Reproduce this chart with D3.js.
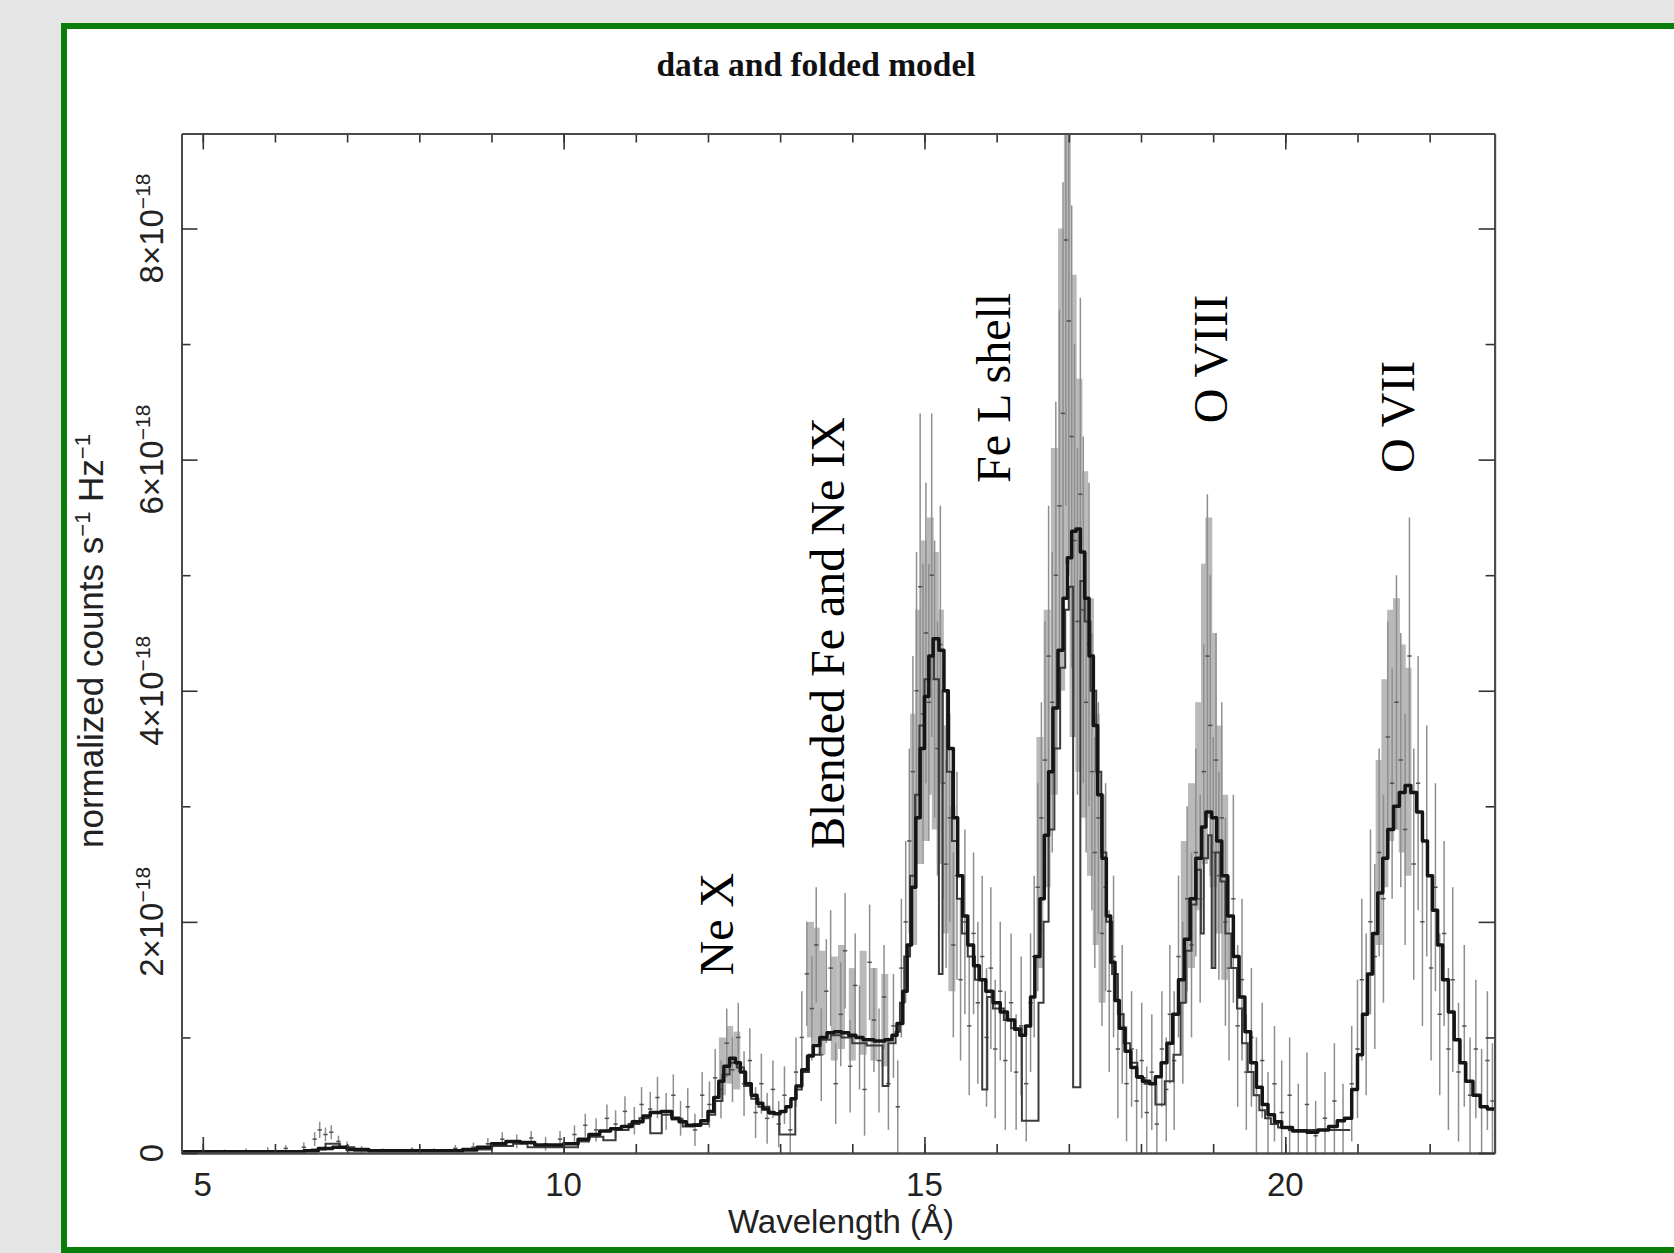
<!DOCTYPE html>
<html>
<head>
<meta charset="utf-8">
<script src="https://cdn.jsdelivr.net/npm/d3@7"></script>
<style>
  body { margin: 0; background: #e5e5e5; }
  svg { display: block; }
</style>
</head>
<body>
<div id="chart"></div>
<script>
// values in units of 1e-18 normalized counts s^-1 Hz^-1, wavelength in Angstrom

// folded model (thick black step line): [wavelength where step starts, value]
let modelMain = [
  [4.70,0.01],[6.4,0.02],[6.6,0.04],[6.8,0.05],[7.0,0.03],[7.3,0.02],[8.0,0.02],[8.6,0.03],
  [8.8,0.05],[9.0,0.08],[9.2,0.10],[9.4,0.09],[9.6,0.07],[9.8,0.07],[10.0,0.08],[10.2,0.12],
  [10.35,0.16],[10.5,0.19],[10.65,0.21],[10.8,0.23],[10.95,0.27],[11.1,0.32],[11.2,0.35],
  [11.35,0.36],[11.5,0.30],[11.6,0.27],[11.7,0.24],[11.8,0.24],[11.9,0.28],[12.0,0.36],
  [12.08,0.48],[12.15,0.62],[12.22,0.75],[12.3,0.82],[12.38,0.78],[12.45,0.70],[12.52,0.60],
  [12.6,0.50],[12.68,0.43],[12.76,0.38],[12.84,0.35],[12.92,0.34],[13.0,0.36],[13.08,0.40],
  [13.15,0.47],[13.22,0.58],[13.3,0.72],[13.38,0.84],[13.46,0.93],[13.55,1.00],[13.65,1.04],
  [13.75,1.05],[13.85,1.04],[13.95,1.02],[14.05,1.00],[14.15,0.98],[14.3,0.97],[14.45,0.98],
  [14.55,1.02],[14.62,1.12],[14.7,1.40],[14.76,1.80],[14.82,2.30],[14.88,2.90],[14.94,3.50],
  [15.0,3.95],[15.06,4.30],[15.12,4.45],[15.2,4.35],[15.27,4.00],[15.33,3.50],[15.4,2.90],
  [15.46,2.40],[15.53,2.05],[15.6,1.80],[15.68,1.62],[15.76,1.50],[15.85,1.40],[15.95,1.30],
  [16.05,1.22],[16.15,1.15],[16.25,1.07],[16.32,1.02],[16.4,1.10],[16.47,1.35],[16.53,1.70],
  [16.6,2.20],[16.66,2.75],[16.72,3.30],[16.78,3.85],[16.85,4.35],[16.92,4.80],[16.98,5.15],
  [17.04,5.38],[17.1,5.40],[17.16,5.20],[17.22,4.80],[17.28,4.30],[17.34,3.70],[17.4,3.10],
  [17.46,2.55],[17.52,2.05],[17.58,1.65],[17.64,1.32],[17.7,1.08],[17.78,0.88],[17.86,0.74],
  [17.94,0.66],[18.02,0.62],[18.12,0.60],[18.2,0.66],[18.28,0.78],[18.36,0.95],[18.44,1.20],
  [18.52,1.50],[18.6,1.85],[18.68,2.20],[18.76,2.55],[18.84,2.82],[18.9,2.95],[18.98,2.90],
  [19.05,2.70],[19.12,2.40],[19.2,2.05],[19.28,1.70],[19.36,1.35],[19.44,1.05],[19.52,0.78],
  [19.6,0.57],[19.68,0.42],[19.76,0.33],[19.85,0.27],[19.95,0.22],[20.1,0.19],[20.3,0.18],
  [20.45,0.20],[20.6,0.23],[20.72,0.28],[20.82,0.30],[20.92,0.55],[21.0,0.85],[21.07,1.20],
  [21.14,1.55],[21.21,1.90],[21.28,2.25],[21.35,2.55],[21.42,2.80],[21.5,3.00],[21.58,3.12],
  [21.66,3.18],[21.74,3.12],[21.82,2.95],[21.9,2.70],[21.97,2.40],[22.04,2.10],[22.11,1.80],
  [22.18,1.50],[22.26,1.22],[22.34,0.98],[22.42,0.78],[22.5,0.62],[22.6,0.50],[22.7,0.40],
  [22.8,0.38],[22.9,0.38]
]

// second folded model (thinner line, with the dropped bins)
let modelSecond = [
  [6.5,0.03],[6.7,0.08],[6.9,0.05],[7.1,0.02],[8.8,0.03],[9.0,0.06],[9.3,0.08],[9.5,0.05],
  [10.2,0.10],[10.35,0.14],[10.55,0.11],[10.72,0.20],[10.9,0.25],[11.05,0.30],[11.2,0.17],
  [11.36,0.33],[11.5,0.29],[11.65,0.23],[11.8,0.25],[12.0,0.33],[12.1,0.45],[12.2,0.68],
  [12.3,0.78],[12.4,0.74],[12.5,0.58],[12.6,0.47],[12.7,0.40],[12.85,0.34],[12.99,0.16],
  [13.21,0.55],[13.3,0.70],[13.4,0.85],[13.55,0.98],[13.7,1.02],[13.85,1.00],[14.0,0.95],
  [14.2,0.93],[14.42,0.58],[14.5,0.95],[14.6,1.05],[14.66,1.30],[14.72,1.70],[14.8,2.40],
  [14.87,3.10],[14.93,3.70],[15.0,4.10],[15.07,4.30],[15.13,4.10],[15.2,1.55],[15.25,4.00],
  [15.31,3.30],[15.38,2.70],[15.45,2.20],[15.52,1.90],[15.6,1.70],[15.7,1.50],[15.8,0.55],
  [15.87,1.35],[15.95,1.25],[16.1,1.15],[16.2,1.08],[16.35,0.28],[16.58,1.30],[16.65,2.00],
  [16.72,2.80],[16.8,3.50],[16.88,4.20],[16.95,4.70],[17.0,4.90],[17.06,0.57],[17.16,4.95],
  [17.22,4.60],[17.3,4.00],[17.38,3.30],[17.45,2.60],[17.52,2.00],[17.6,1.55],[17.68,1.20],
  [17.76,0.95],[17.85,0.78],[17.95,0.65],[18.05,0.60],[18.2,0.42],[18.33,0.62],[18.45,0.85],
  [18.55,1.30],[18.62,1.75],[18.7,2.15],[18.77,2.45],[18.83,1.90],[18.87,2.55],[18.93,2.75],
  [18.98,1.60],[19.03,2.60],[19.1,2.35],[19.17,1.90],[19.25,1.60],[19.33,1.25],[19.4,0.95],
  [19.48,0.70],[19.56,0.50],[19.64,0.37],[19.72,0.30],[19.8,0.25],[19.9,0.22],[20.05,0.20],
  [20.9,0.20]
]

// data, dense set drawn as broad light bands: [wavelength, value, error]
let dataBand = [
  [12.2,0.75,0.25],[12.3,0.85,0.25],[12.4,0.80,0.25],
  [13.42,1.5,0.5],[13.5,1.45,0.5],[13.58,1.3,0.45],[13.75,1.25,0.45],[13.85,1.35,0.45],
  [14.0,1.2,0.4],[14.15,1.3,0.45],[14.3,1.2,0.4],[14.45,1.15,0.4],
  [14.85,2.8,1.0],[14.92,3.6,1.1],[15.0,4.0,1.3],[15.08,4.3,1.2],[15.15,4.0,1.2],
  [15.22,3.6,1.1],[15.3,2.8,0.9],[15.38,2.2,0.8],
  [16.6,2.6,1.0],[16.7,3.5,1.2],[16.8,4.6,1.5],[16.9,6.0,2.0],[16.98,7.6,2.5],[17.06,5.6,2.0],
  [17.14,5.0,1.7],[17.22,4.4,1.5],[17.3,3.6,1.2],[17.38,2.8,1.0],[17.46,2.2,0.9],
  [18.6,2.0,0.7],[18.7,2.4,0.8],[18.8,3.0,0.9],[18.88,3.8,1.3],[18.94,4.2,1.3],[19.0,3.4,1.1],
  [19.08,2.8,0.9],[19.16,2.3,0.8],
  [21.3,2.6,0.8],[21.38,3.2,0.9],[21.46,3.7,1.0],[21.54,3.8,1.0],[21.62,3.5,0.9],[21.7,3.3,0.9]
]

// data, crosses with thin error bars: [wavelength, value, error]
let dataCross = [
  [5.3,0.01,0.02],[5.6,0.02,0.02],[5.9,0.02,0.03],[6.15,0.04,0.03],[6.4,0.05,0.04],
  [6.55,0.12,0.06],[6.62,0.20,0.07],[6.7,0.16,0.06],[6.78,0.18,0.06],[6.88,0.10,0.05],
  [7.0,0.06,0.04],[7.2,0.03,0.03],[7.5,0.02,0.02],[7.9,0.03,0.02],[8.2,0.02,0.02],
  [8.5,0.04,0.03],[8.75,0.05,0.04],[8.95,0.08,0.05],[9.15,0.12,0.06],[9.35,0.10,0.06],
  [9.55,0.13,0.06],[9.75,0.08,0.06],[9.95,0.12,0.07],[10.15,0.16,0.08],[10.3,0.24,0.10],
  [10.45,0.20,0.10],[10.6,0.30,0.12],[10.72,0.25,0.12],[10.85,0.36,0.13],[10.98,0.28,0.12],
  [11.08,0.42,0.15],[11.2,0.38,0.15],[11.3,0.48,0.18],[11.42,0.36,0.16],[11.52,0.50,0.18],
  [11.62,0.30,0.15],[11.72,0.40,0.16],[11.82,0.20,0.14],[11.92,0.50,0.20],[12.02,0.42,0.20],
  [12.1,0.65,0.25],[12.18,0.55,0.25],[12.26,0.95,0.30],[12.34,0.72,0.28],[12.42,1.00,0.30],
  [12.5,0.60,0.28],[12.58,0.80,0.28],[12.66,0.35,0.22],[12.74,0.60,0.26],[12.82,0.30,0.22],
  [12.9,0.55,0.25],[12.98,0.25,0.20],[13.06,0.50,0.25],[13.14,0.20,0.22],[13.22,0.70,0.30],
  [13.3,1.0,0.4],[13.37,1.55,0.45],[13.44,1.25,0.45],[13.5,1.8,0.5],[13.57,0.85,0.4],
  [13.64,1.4,0.45],[13.7,1.6,0.5],[13.77,0.6,0.35],[13.84,1.2,0.45],[13.9,1.75,0.5],
  [13.97,0.75,0.4],[14.04,1.45,0.45],[14.1,1.0,0.45],[14.17,0.55,0.4],[14.24,1.65,0.5],
  [14.3,1.15,0.45],[14.37,0.8,0.45],[14.44,1.35,0.45],[14.5,0.6,0.4],[14.57,1.1,0.45],
  [14.63,0.4,0.4],[14.68,1.6,0.6],
  [14.74,2.0,0.7],[14.79,2.7,0.8],[14.84,3.3,1.0],[14.89,4.0,1.2],[14.94,4.9,1.5],
  [14.98,3.8,1.3],[15.02,4.5,1.3],[15.06,3.9,1.2],[15.1,5.0,1.4],[15.14,4.1,1.2],
  [15.18,3.5,1.1],[15.22,4.4,1.2],[15.26,3.2,1.0],[15.3,2.5,0.9],[15.35,2.9,0.9],
  [15.4,1.8,0.8],[15.45,2.4,0.9],[15.5,1.5,0.7],[15.56,2.0,0.8],[15.62,1.1,0.6],
  [15.68,1.9,0.7],[15.74,1.3,0.7],[15.8,1.7,0.7],[15.86,1.0,0.6],[15.92,1.6,0.7],
  [15.98,0.9,0.6],[16.05,1.4,0.6],[16.12,0.8,0.6],[16.2,1.3,0.6],[16.27,0.7,0.5],
  [16.34,1.1,0.6],[16.41,0.6,0.5],[16.47,1.3,0.6],
  [16.52,1.7,0.7],[16.57,2.3,0.9],[16.62,2.9,1.0],[16.67,3.4,1.2],[16.72,4.3,1.3],
  [16.77,3.9,1.3],[16.82,5.0,1.5],[16.87,5.6,1.7],[16.92,6.4,2.0],[16.96,7.9,2.3],
  [17.0,7.2,2.2],[17.04,6.2,2.0],[17.08,5.3,1.7],[17.12,4.6,1.5],[17.16,5.7,1.7],
  [17.2,4.7,1.5],[17.24,3.9,1.3],[17.28,4.4,1.4],[17.32,3.3,1.2],[17.36,2.6,1.0],
  [17.41,2.9,1.0],[17.46,1.9,0.8],[17.51,2.3,0.9],[17.56,1.4,0.7],[17.62,1.7,0.7],
  [17.68,0.9,0.6],[17.74,1.2,0.6],[17.8,0.6,0.5],[17.87,0.9,0.5],[17.94,0.45,0.45],
  [18.01,0.8,0.5],[18.08,0.35,0.4],[18.15,0.7,0.5],[18.22,0.25,0.35],[18.29,0.9,0.5],
  [18.35,0.55,0.45],
  [18.4,1.2,0.6],[18.46,0.8,0.6],[18.52,1.7,0.7],[18.58,1.3,0.7],[18.64,2.2,0.8],
  [18.7,1.8,0.8],[18.76,2.6,0.9],[18.82,2.2,0.9],[18.87,3.3,1.1],[18.92,4.3,1.4],
  [18.96,3.7,1.3],[19.0,2.6,1.0],[19.04,3.4,1.1],[19.08,2.4,0.9],[19.12,2.9,1.0],
  [19.17,2.0,0.9],[19.22,1.6,0.8],[19.28,2.2,0.9],[19.34,1.1,0.7],[19.4,1.5,0.7],
  [19.46,0.7,0.5],[19.53,1.0,0.6],[19.6,0.5,0.5],[19.68,0.8,0.5],[19.76,0.3,0.4],
  [19.85,0.6,0.5],[19.95,0.35,0.45],[20.06,0.5,0.5],[20.18,0.2,0.4],[20.3,0.42,0.45],
  [20.42,0.15,0.3],[20.55,0.3,0.4],[20.68,0.45,0.5],[20.8,0.2,0.4],[20.92,0.6,0.5],
  [21.0,0.9,0.6],[21.06,1.5,0.7],[21.12,1.2,0.7],[21.18,2.0,0.8],[21.24,1.7,0.8],
  [21.3,2.6,0.9],[21.36,2.2,0.9],[21.42,3.6,1.0],[21.48,3.2,1.0],[21.54,3.9,1.1],
  [21.6,3.4,1.1],[21.66,2.8,1.0],[21.72,4.3,1.2],[21.78,2.5,1.0],[21.84,3.2,1.1],
  [21.9,2.0,0.9],[21.96,2.7,1.0],[22.02,1.6,0.8],[22.08,2.3,0.9],[22.14,1.2,0.7],
  [22.2,1.9,0.8],[22.26,0.9,0.7],[22.32,1.5,0.8],[22.4,0.7,0.6],[22.48,1.1,0.7],
  [22.56,0.5,0.5],[22.64,0.9,0.6],[22.72,0.4,0.5],[22.8,0.8,0.6],[22.87,0.45,0.5]
]

let xMajor = [5, 10, 15, 20]
let xMinor = d3.range(5, 23)
let yMajor = [0, 2, 4, 6, 8]
let yMinor = [1, 3, 5, 7]

let lineLabels = [
  { text: 'Ne X', wl: 12.34, val: 1.98 },
  { text: 'Blended Fe and Ne IX', wl: 13.89, val: 4.5 },
  { text: 'Fe L shell', wl: 16.19, val: 6.62 },
  { text: 'O VIII', wl: 19.19, val: 6.87 },
  { text: 'O VII', wl: 21.79, val: 6.37 }
]

let width = 1674
let height = 1253

let plot = { left: 181.5, right: 1494.6, top: 133.5, bottom: 1153 }

let svg = d3
  .select('#chart')
  .append('svg')
  .attr('width', width)
  .attr('height', height)

svg.append('rect').attr('width', width).attr('height', height).attr('fill', '#e5e5e5')

// white panel with green frame (runs off the right edge)
svg
  .append('rect')
  .attr('x', 64)
  .attr('y', 26)
  .attr('width', 1700)
  .attr('height', 1224)
  .attr('fill', 'white')
  .attr('stroke', '#0b7d0b')
  .attr('stroke-width', 6)

let x = d3.scaleLinear().domain([4.705, 22.9]).range([plot.left, plot.right])
let y = d3.scaleLinear().domain([0, 8.822]).range([plot.bottom, plot.top])

svg
  .append('clipPath')
  .attr('id', 'clip')
  .append('rect')
  .attr('x', plot.left)
  .attr('y', plot.top)
  .attr('width', plot.right - plot.left)
  .attr('height', plot.bottom - plot.top)

let g = svg.append('g').attr('clip-path', 'url(#clip)')

// broad grey bands
g.selectAll('.band')
  .data(dataBand)
  .enter()
  .append('line')
  .attr('class', 'band')
  .attr('x1', d => x(d[0]))
  .attr('x2', d => x(d[0]))
  .attr('y1', d => y(d[1] - d[2]))
  .attr('y2', d => y(d[1] + d[2]))
  .attr('stroke', '#b9b9b9')
  .attr('stroke-width', 7)

// thin error bars
g.selectAll('.err')
  .data(dataCross)
  .enter()
  .append('line')
  .attr('class', 'err')
  .attr('x1', d => x(d[0]))
  .attr('x2', d => x(d[0]))
  .attr('y1', d => y(d[1] - d[2]))
  .attr('y2', d => y(d[1] + d[2]))
  .attr('stroke', '#8e8e8e')
  .attr('stroke-width', 1.5)

// cross bars
g.selectAll('.tick-h')
  .data(dataCross)
  .enter()
  .append('line')
  .attr('class', 'tick-h')
  .attr('x1', d => x(d[0] - 0.03))
  .attr('x2', d => x(d[0] + 0.03))
  .attr('y1', d => y(d[1]))
  .attr('y2', d => y(d[1]))
  .attr('stroke', '#505050')
  .attr('stroke-width', 1.5)

let step = d3
  .line()
  .x(d => x(d[0]))
  .y(d => y(d[1]))
  .curve(d3.curveStepAfter)

g.append('path')
  .datum(modelSecond)
  .attr('d', step)
  .attr('fill', 'none')
  .attr('stroke', '#3c3c3c')
  .attr('stroke-width', 2)

g.append('path')
  .datum(modelMain)
  .attr('d', step)
  .attr('fill', 'none')
  .attr('stroke', '#151515')
  .attr('stroke-width', 3.5)
  .attr('stroke-linejoin', 'round')

// axes, ticks pointing inwards on all four sides
function styleAxis(sel) {
  sel.selectAll('.domain').attr('stroke', '#4a4a4a').attr('stroke-width', 2)
  sel.selectAll('.tick line').attr('stroke', '#333').attr('stroke-width', 1.6)
  sel.selectAll('.tick text').remove()
}

let axes = [
  [d3.axisBottom(x), plot.bottom, 'x', xMajor, xMinor],
  [d3.axisTop(x), plot.top, 'x', xMajor, xMinor],
  [d3.axisLeft(y), plot.left, 'y', yMajor, yMinor],
  [d3.axisRight(y), plot.right, 'y', yMajor, yMinor]
]

axes.forEach(([axis, pos, dir, major, minor]) => {
  let tr = dir === 'x' ? `translate(0,${pos})` : `translate(${pos},0)`
  svg.append('g')
    .attr('transform', tr)
    .call(axis.tickValues(minor).tickSize(-9).tickSizeOuter(0))
    .call(styleAxis)
  svg.append('g')
    .attr('transform', tr)
    .call(axis.tickValues(major).tickSize(-16).tickSizeOuter(0))
    .call(styleAxis)
})

let sans = 'Liberation Sans, Arial, sans-serif'
let serif = 'Liberation Serif, Times New Roman, serif'

// x tick labels
svg.selectAll('.xlab')
  .data(xMajor)
  .enter()
  .append('text')
  .attr('x', d => x(d))
  .attr('y', 1196)
  .attr('text-anchor', 'middle')
  .attr('font-family', sans)
  .attr('font-size', 33)
  .attr('fill', '#222')
  .text(d => d)

// y tick labels, rotated
yMajor.forEach(v => {
  let t = svg.append('text')
    .attr('transform', `translate(163,${y(v)}) rotate(-90)`)
    .attr('text-anchor', 'middle')
    .attr('font-family', sans)
    .attr('font-size', 33)
    .attr('fill', '#222')
  if (v === 0) {
    t.text('0')
  } else {
    t.append('tspan').text(v + '×10')
    t.append('tspan').attr('dy', -13).attr('font-size', 21).text('−18')
  }
})

svg.append('text')
  .attr('x', 841)
  .attr('y', 1233)
  .attr('text-anchor', 'middle')
  .attr('font-family', sans)
  .attr('font-size', 33)
  .attr('fill', '#222')
  .text('Wavelength (Å)')

let ylab = svg.append('text')
  .attr('transform', 'translate(103,641) rotate(-90)')
  .attr('text-anchor', 'middle')
  .attr('font-family', sans)
  .attr('font-size', 35)
  .attr('fill', '#222')
ylab.append('tspan').text('normalized counts s')
ylab.append('tspan').attr('dy', -13).attr('font-size', 22).text('−1')
ylab.append('tspan').attr('dy', 13).text(' Hz')
ylab.append('tspan').attr('dy', -13).attr('font-size', 22).text('−1')

// title
svg.append('text')
  .attr('x', 816)
  .attr('y', 76)
  .attr('text-anchor', 'middle')
  .attr('font-family', serif)
  .attr('font-weight', 'bold')
  .attr('font-size', 33.5)
  .attr('fill', '#111')
  .text('data and folded model')

// emission line labels
svg.selectAll('.line-label')
  .data(lineLabels)
  .enter()
  .append('text')
  .attr('class', 'line-label')
  .attr('transform', d => `translate(${x(d.wl)},${y(d.val)}) rotate(-90)`)
  .attr('text-anchor', 'middle')
  .attr('font-family', serif)
  .attr('font-size', 48)
  .attr('fill', 'black')
  .text(d => d.text)
</script>
</body>
</html>
